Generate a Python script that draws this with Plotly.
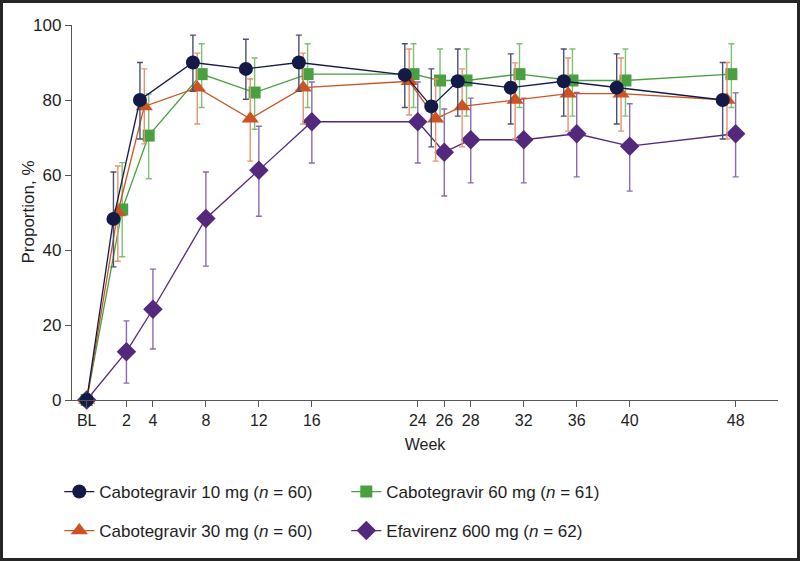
import plotly.graph_objects as go

# ---- data ----
week_labels = ["BL", "2", "4", "8", "12", "16", "24", "26", "28", "32", "36", "40", "48"]
weeks = [-1, 2, 4, 8, 12, 16, 24, 26, 28, 32, 36, 40, 48]

cab10 = [0, 48.3, 80.0, 90.0, 88.3, 90.0, 86.7, 78.3, 85.0, 83.3, 85.0, 83.3, 80.0]
cab10_hi = [0, 60.8, 90.0, 97.3, 96.2, 97.3, 95.0, 88.3, 93.6, 92.3, 93.6, 92.3, 90.0]
cab10_lo = [0, 35.5, 69.6, 82.3, 80.2, 82.3, 78.0, 67.5, 75.7, 73.6, 75.7, 73.6, 69.6]

cab30 = [0, 50.0, 78.3, 83.3, 75.0, 83.3, 85.0, 75.0, 78.3, 80.0, 81.7, 81.7, 80.0]
cab30_hi = [0, 62.4, 88.3, 92.5, 85.6, 92.5, 93.6, 85.6, 88.3, 89.9, 91.2, 91.2, 90.0]
cab30_lo = [0, 37.0, 68.3, 73.6, 63.7, 73.6, 76.0, 63.7, 67.5, 69.6, 71.7, 71.7, 69.6]

cab60 = [0, 50.8, 70.5, 86.9, 82.0, 86.9, 86.9, 85.2, 85.2, 86.9, 85.2, 85.2, 86.9]
cab60_hi = [0, 63.3, 81.6, 95.0, 91.2, 95.0, 95.0, 93.6, 93.6, 95.0, 93.6, 93.6, 95.0]
cab60_lo = [0, 38.2, 59.0, 78.0, 72.2, 78.0, 78.0, 75.7, 75.7, 78.0, 75.7, 75.7, 78.0]

efv = [0, 12.9, 24.2, 48.4, 61.3, 74.2, 74.2, 66.1, 69.4, 69.4, 71.0, 67.7, 71.0]
efv_hi = [0, 21.1, 34.9, 60.8, 73.0, 84.8, 84.8, 77.6, 80.5, 80.5, 82.0, 79.0, 81.9]
efv_lo = [0, 4.5, 13.6, 35.7, 49.0, 63.2, 63.2, 54.4, 57.9, 57.9, 59.5, 55.7, 59.5]

series = [
    # name, values, hi, lo, offset, marker symbol, size, color, err color, legend, rank
    ("Efavirenz 600 mg (<i>n</i> = 62)", efv, efv_hi, efv_lo, 0.0, "diamond", 15,
     "#53287d", "#8b6bb0", "legend2", 2),
    ("Cabotegravir 60 mg (<i>n</i> = 61)", cab60, cab60_hi, cab60_lo, -0.32, "square", 12,
     "#48a040", "#7cc270", "legend", 2),
    ("Cabotegravir 30 mg (<i>n</i> = 60)", cab30, cab30_hi, cab30_lo, -0.65, "triangle-up", 15,
     "#cc5424", "#e49470", "legend2", 1),
    ("Cabotegravir 10 mg (<i>n</i> = 60)", cab10, cab10_hi, cab10_lo, -0.98, "circle", 14,
     "#141a48", "#4c5070", "legend", 1),
]

FONT = "Liberation Sans Narrow, Arial Narrow, Liberation Sans, Arial, sans-serif"

fig = go.Figure()
for name, vals, hi, lo, off, sym, size, col, ecol, leg, rank in series:
    xs = [w if w < 0 else w + off for w in weeks]
    fig.add_trace(go.Scatter(
        x=xs, y=vals, name=name, mode="lines+markers",
        line=dict(color=col, width=1.3),
        marker=dict(symbol=sym, size=size, color=col, line=dict(width=0)),
        error_y=dict(type="data", symmetric=False,
                     array=[h - v for h, v in zip(hi, vals)],
                     arrayminus=[v - l for l, v in zip(lo, vals)],
                     color=ecol, thickness=1.4, width=3),
        cliponaxis=False, legend=leg, legendrank=rank,
    ))

W, H = 800, 561
ml, mr, mt, mb = 72, 22, 25, 161
pw, ph = W - ml - mr, H - mt - mb

fig.update_layout(
    width=W, height=H,
    margin=dict(l=ml, r=mr, t=mt, b=mb),
    paper_bgcolor="white", plot_bgcolor="white",
    font=dict(family=FONT, size=16, color="#1e1e1e"),
    showlegend=True,
    legend=dict(orientation="h", x=-0.018, y=(mt + ph - 492) / ph,
                xanchor="left", yanchor="middle", entrywidth=242, entrywidthmode="pixels",
                font=dict(size=17), bgcolor="rgba(0,0,0,0)"),
    legend2=dict(orientation="h", x=-0.018, y=(mt + ph - 531) / ph,
                 xanchor="left", yanchor="middle", entrywidth=242, entrywidthmode="pixels",
                 font=dict(size=17), bgcolor="rgba(0,0,0,0)"),
    xaxis=dict(range=[-2.11, 51.2], tickvals=weeks, ticktext=week_labels,
               showgrid=False, zeroline=False, showline=True, linecolor="#555555", linewidth=1.3,
               ticks="outside", ticklen=6, tickcolor="#555555", tickwidth=1.3,
               tickfont=dict(size=16),
               title=dict(text="Week", standoff=10, font=dict(size=16))),
    yaxis=dict(range=[0, 100], tickvals=[0, 20, 40, 60, 80, 100],
               showgrid=False, zeroline=False, showline=True, linecolor="#555555", linewidth=1.3,
               ticks="outside", ticklen=6, tickcolor="#555555", tickwidth=1.3,
               tickfont=dict(size=17)),
)

# y-axis title placed as a rotated annotation
fig.add_annotation(text="Proportion, %", xref="paper", yref="paper",
                   x=(28 - ml) / pw, y=0.5, xanchor="center", yanchor="middle",
                   textangle=-90, showarrow=False, font=dict(size=17))

# dark frame around the whole image
fig.add_shape(type="rect", xref="paper", yref="paper",
              x0=(1.5 - ml) / pw, x1=(W - 1.5 - ml) / pw,
              y0=(mt + ph - (H - 1.5)) / ph, y1=(mt + ph - 1.5) / ph,
              line=dict(color="#262626", width=3), fillcolor="rgba(0,0,0,0)", layer="above")

fig.write_html("out.html", config={"displayModeBar": False},
               post_script="document.body.style.margin='0';document.body.style.overflow='hidden';")
